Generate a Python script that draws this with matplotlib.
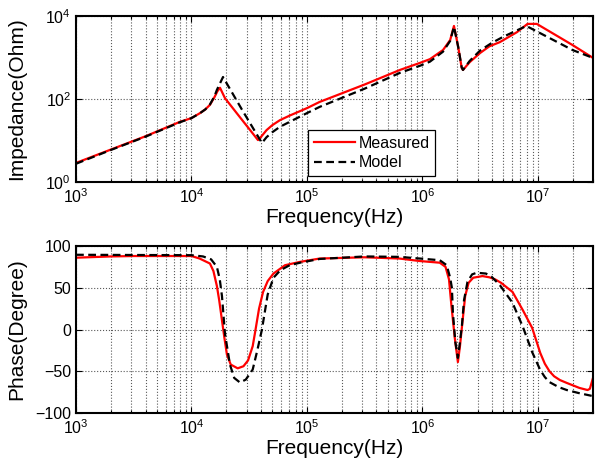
import numpy as np
import matplotlib
matplotlib.use("Agg")
import matplotlib.pyplot as plt
from matplotlib.ticker import LogLocator, NullFormatter

plt.rcParams['font.family'] = ['Liberation Sans', 'DejaVu Sans']
plt.rcParams['mathtext.fontset'] = 'custom'
plt.rcParams['mathtext.rm'] = 'Liberation Sans'

# impedance magnitude, measured (log10 f, log10 |Z|)
meas_logf = [3.0, 3.3, 3.6, 3.9, 4.0, 4.074, 4.12, 4.16, 4.20, 4.225, 4.247,
             4.29, 4.40, 4.576, 4.60, 4.65, 4.70, 4.766, 4.85, 5.0, 5.11,
             5.5, 5.805, 5.978, 6.065, 6.178, 6.24, 6.273, 6.31, 6.34,
             6.351, 6.41, 6.50, 6.58, 6.67, 6.818, 6.91, 6.99, 7.3, 7.477]
meas_logz = [0.46, 0.78, 1.10, 1.45, 1.54, 1.66, 1.75, 1.86, 2.05, 2.19, 2.27,
             2.02, 1.63, 1.01, 1.08, 1.25, 1.37, 1.49, 1.60, 1.78, 1.93,
             2.35, 2.70, 2.87, 2.96, 3.18, 3.42, 3.76, 3.25, 2.75,
             2.70, 2.89, 3.11, 3.27, 3.37, 3.61, 3.81, 3.81, 3.30, 2.99]

# impedance magnitude, circuit model
model_logf = [3.0, 3.3, 3.6, 3.9, 4.0, 4.074, 4.12, 4.16, 4.20, 4.22, 4.273,
              4.44, 4.61, 4.65, 4.70, 4.766, 4.9, 5.0, 5.11, 5.5, 5.805,
              5.978, 6.065, 6.178, 6.24, 6.273, 6.31, 6.34, 6.351, 6.41,
              6.50, 6.60, 6.70, 6.90, 7.3, 7.477]
model_logz = [0.44, 0.77, 1.09, 1.44, 1.54, 1.66, 1.75, 1.87, 2.07, 2.22, 2.53,
              1.73, 0.94, 1.08, 1.20, 1.33, 1.52, 1.66, 1.81, 2.25, 2.63,
              2.80, 2.90, 3.14, 3.40, 3.74, 3.25, 2.76, 2.70, 2.92,
              3.17, 3.35, 3.50, 3.76, 3.18, 2.99]

# phase, measured (log10 f, degree)
meas_ph_logf = [3.0, 3.3, 3.5, 4.0, 4.07, 4.16, 4.19, 4.22, 4.24, 4.264, 4.285,
                4.307, 4.34, 4.40, 4.45, 4.49, 4.53, 4.55, 4.585, 4.62, 4.66,
                4.71, 4.81, 4.94, 5.11, 5.5, 5.8, 5.978, 6.15, 6.2, 6.23, 6.25,
                6.28, 6.307, 6.325, 6.342, 6.37, 6.40, 6.44, 6.52, 6.58, 6.63,
                6.68, 6.78, 6.87, 6.95, 7.02, 7.06, 7.10, 7.14, 7.19, 7.25,
                7.36, 7.43, 7.45, 7.477]
meas_ph = [86, 87.5, 88, 88, 85, 79, 70, 52, 35, 11, -10,
           -30, -42, -46.5, -44, -37, -20, -4, 25, 45, 58,
           67, 77, 81, 85, 86.5, 85, 82, 80, 75, 60, 30,
           -10, -39, -20, 3, 40, 56, 62, 64, 62.5, 60,
           56, 45, 23, 2, -28, -41, -50, -56, -60.5, -64,
           -70, -72.5, -71, -58]

# phase, circuit model
model_ph_logf = [3.0, 4.0, 4.1, 4.17, 4.22, 4.245, 4.264, 4.29, 4.333, 4.37,
                 4.42, 4.47, 4.53, 4.57, 4.61, 4.66, 4.71, 4.77, 4.85, 4.94,
                 5.11, 5.5, 5.8, 5.978, 6.15, 6.21, 6.24, 6.255, 6.264, 6.285,
                 6.307, 6.325, 6.342, 6.36, 6.39, 6.43, 6.47, 6.55, 6.60,
                 6.671, 6.78, 6.87, 6.95, 7.02, 7.06, 7.10, 7.18, 7.25, 7.35,
                 7.47]
model_ph = [89.5, 89, 87.5, 84, 75, 60, 40, -5, -42, -58,
            -63.5, -60, -48, -25, 0, 42, 62, 71, 77, 80,
            84.5, 87.5, 87, 85, 83, 77, 62, 50, 20, -15,
            -34, -15, 5, 35, 57, 66, 68, 67, 63,
            53, 32, 3, -27, -48.5, -57, -63, -69, -72.5, -76,
            -79.6]

f_meas = 10.0 ** np.array(meas_logf)
z_meas = 10.0 ** np.array(meas_logz)
f_model = 10.0 ** np.array(model_logf)
z_model = 10.0 ** np.array(model_logz)
f_meas_ph = 10.0 ** np.array(meas_ph_logf)
f_model_ph = 10.0 ** np.array(model_ph_logf)

fmin, fmax = 1e3, 3e7

fig = plt.figure(figsize=(5.99, 4.72), dpi=100)
ax1 = fig.add_axes([0.1269, 0.6144, 0.8631, 0.3517])
ax2 = fig.add_axes([0.1269, 0.1250, 0.8631, 0.3538])


def styleAxis(ax):
  ax.set_xscale('log')
  ax.set_xlim(fmin, fmax)
  ax.xaxis.set_major_locator(LogLocator(base=10, numticks=10))
  ax.xaxis.set_minor_locator(LogLocator(base=10, subs=np.arange(2, 10),
                                        numticks=20))
  ax.xaxis.set_minor_formatter(NullFormatter())
  ax.grid(True, which='major', axis='both', linestyle=':', color='0.35',
          linewidth=0.8)
  ax.grid(True, which='minor', axis='x', linestyle=':', color='0.35',
          linewidth=0.8)
  ax.tick_params(which='both', direction='in', top=True, right=True,
                 labelsize=11.5, width=0.8)
  ax.tick_params(which='major', length=4)
  ax.tick_params(which='minor', length=2.5)
  for sp in ax.spines.values():
    sp.set_linewidth(1.5)
  ax.set_axisbelow(True)


ax1.plot(f_meas, z_meas, color='r', linewidth=1.6, label='Measured')
ax1.plot(f_model, z_model, color='k', linewidth=1.6, linestyle='--',
         dashes=(3.5, 2), label='Model')
styleAxis(ax1)
ax1.set_yscale('log')
ax1.set_ylim(1, 1e4)
ax1.set_yticks([1, 1e2, 1e4])
ax1.yaxis.set_minor_locator(plt.NullLocator())
ax1.set_ylabel('Impedance(Ohm)', fontsize=15)
ax1.set_xlabel('Frequency(Hz)', fontsize=15, labelpad=2)
ax1.yaxis.set_label_coords(-0.097, 0.5)
leg = ax1.legend(loc='lower left', bbox_to_anchor=(0.449, 0.036),
                 borderaxespad=0, fontsize=11.5, fancybox=False,
                 framealpha=1, edgecolor='k', handlelength=2.6,
                 handletextpad=0.2, borderpad=0.35, labelspacing=0.3)
leg.get_frame().set_linewidth(0.9)

ax2.plot(f_meas_ph, meas_ph, color='r', linewidth=1.6)
ax2.plot(f_model_ph, model_ph, color='k', linewidth=1.6, linestyle='--',
         dashes=(3.5, 2))
styleAxis(ax2)
ax2.set_ylim(-100, 100)
ax2.set_yticks([-100, -50, 0, 50, 100])
ax2.set_ylabel('Phase(Degree)', fontsize=15)
ax2.set_xlabel('Frequency(Hz)', fontsize=15, labelpad=2)
ax2.yaxis.set_label_coords(-0.097, 0.5)

fig.savefig('out.png', dpi=100)
